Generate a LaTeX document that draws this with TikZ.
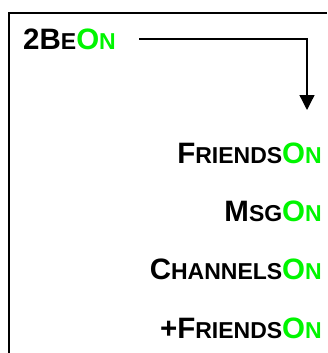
\documentclass[tikz,border=0pt]{standalone}
\usepackage{fontspec}
\setmainfont{Liberation Sans}
\usetikzlibrary{arrows.meta}
\definecolor{ongreen}{RGB}{0,245,0}
% hand-made small capitals: reduced upper-case letters
\newcommand\smc[1]{{\fontsize{23pt}{23pt}\selectfont #1}}
\newcommand\On{\textcolor{ongreen}{O\smc{N}}}
\tikzset{
  frame/.style={line width=2pt},
  label/.style={inner sep=0pt, font=\fontsize{29.5pt}{29.5pt}\selectfont\bfseries},
  link/.style={line width=1.3pt, -{Triangle[length=15pt,width=15pt]}}
}
\begin{document}
\begin{tikzpicture}[x=1pt,y=-1pt]
  \useasboundingbox (0,0) rectangle (327,353);
  % open frame along the left and top
  \draw[frame] (9,353) -- (9,13) -- (327,13);
  % menu labels
  \node[label, anchor=base west] (twobe) at (23,49) {2B\smc{E}\On};
  \node[label, anchor=base east] (friends) at (322,163) {F\smc{RIENDS}\On};
  \node[label, anchor=base east] (msg) at (322,221) {M\smc{SG}\On};
  \node[label, anchor=base east] (channels) at (322,279) {C\smc{HANNELS}\On};
  \node[label, anchor=base east] (plusfriends) at (322,338) {+F\smc{RIENDS}\On};
  % connector from the title down to the menu
  \coordinate (drop) at (307,110);
  \draw[link] ([xshift=23pt,yshift=10pt]twobe.base east) -| (drop);
\end{tikzpicture}
\end{document}
